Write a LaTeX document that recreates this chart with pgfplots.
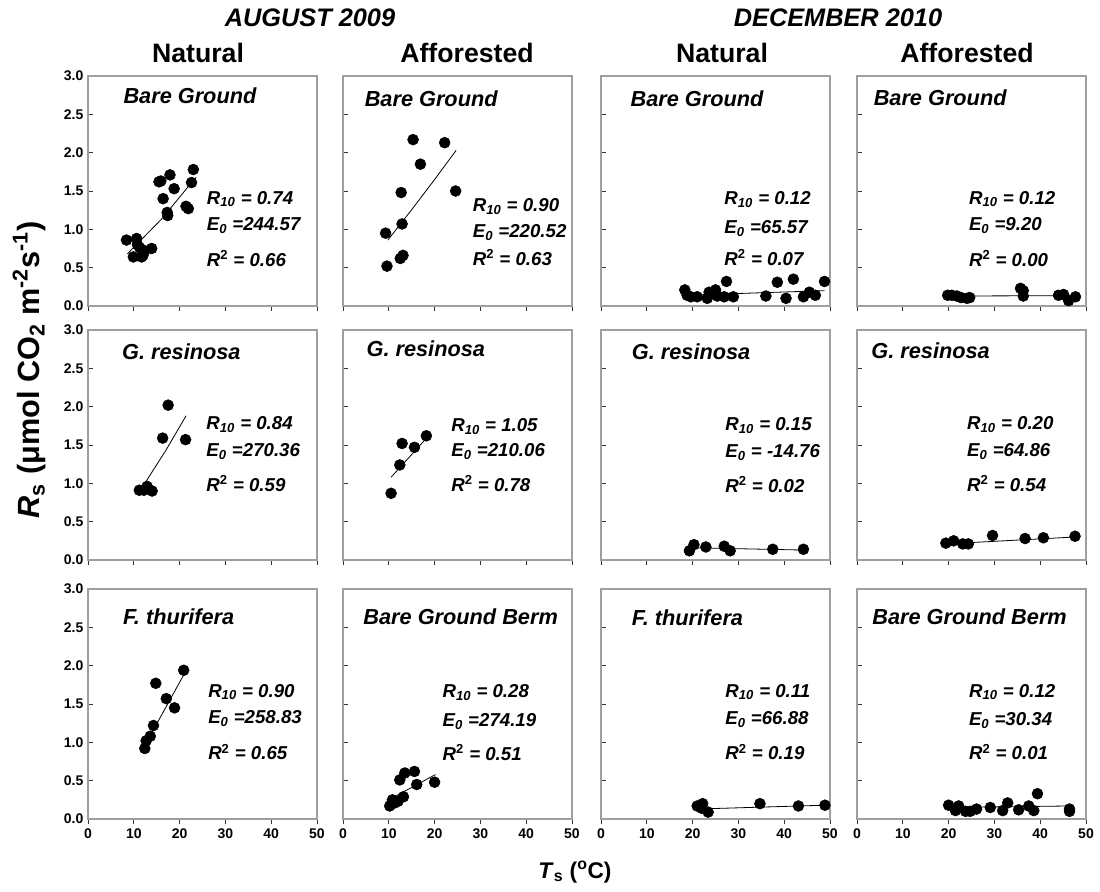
\documentclass[border=0pt]{standalone}
\usepackage{fontspec}
\setmainfont{Liberation Sans}
\setsansfont{Liberation Sans}
\usepackage{pgfplots}
\pgfplotsset{compat=1.18}

\tikzset{
  st/.style={anchor=base west, inner sep=0pt, font=\fontsize{14}{16}\selectfont\bfseries\itshape},
  pl/.style={anchor=base west, inner sep=0pt, font=\fontsize{16.3}{18}\selectfont\bfseries\itshape},
}
\pgfplotsset{
  panel/.style={
    scale only axis, width=171.75pt, height=172.5pt,
    xmin=0, xmax=50, ymin=0, ymax=3,
    xtick={0,10,20,30,40,50}, ytick={0,0.5,1,1.5,2,2.5,3},
    xticklabels={}, yticklabels={},
    tick pos=left, xtick align=outside, ytick align=inside,
    major tick length=4pt,
    major tick style={black!80, line width=0.6pt},
    axis line style={gray!75, line width=0.8pt},
    tick label style={font=\fontsize{10.5}{12}\selectfont\bfseries},
    clip=false, anchor=north west,
  },
  ylab/.style={yticklabels={0.0,0.5,1.0,1.5,2.0,2.5,3.0}},
  xlab/.style={xticklabels={0,10,20,30,40,50}},
  pts/.style={only marks, mark=*, mark size=4.1pt, black},
  fit/.style={no marks, black, line width=0.6pt},
}
% x, y of the three lines, then R10, E0, R2
\newcommand{\stats}[7]{%
  \node[st] at (axis cs:#1,#2) {R\textsubscript{10} = #5};
  \node[st] at (axis cs:#1,#3) {E\textsubscript{0} #6};
  \node[st] at (axis cs:#1,#4) {R\textsuperscript{\upshape 2} = #7};
}

\begin{document}
\begin{tikzpicture}
\useasboundingbox (0,0) rectangle (825pt,-669pt);

% ---------- row 1 ----------
\begin{axis}[panel, ylab, at={(66pt,-57pt)}]
\addplot[pts] coordinates {(8.4,0.86) (10.6,0.88) (9.9,0.64) (11.7,0.64) (11.3,0.76) (12.4,0.72)
  (13.9,0.75) (10.8,0.80) (12.0,0.66) (15.5,1.62) (15.9,1.63) (17.9,1.71) (18.8,1.53) (16.4,1.40)
  (17.3,1.22) (17.4,1.18) (21.4,1.30) (21.9,1.27) (22.6,1.61) (23.0,1.78)};
\addplot[fit] coordinates {(8.6,0.68) (16,1.13) (23.6,1.68)};
\node[pl] at (axis cs:7.7,2.64) {Bare Ground};
\stats{25.9}{1.33}{0.98}{0.52}{0.74}{=244.57}{0.66}
\end{axis}

\begin{axis}[panel, at={(257.25pt,-57pt)}]
\addplot[pts] coordinates {(15.3,2.17) (22.2,2.13) (16.9,1.85) (12.7,1.48) (24.6,1.50) (12.9,1.07)
  (9.3,0.95) (9.6,0.52) (12.5,0.62) (13.1,0.66)};
\addplot[fit] coordinates {(9.8,0.86) (15.3,1.28) (20,1.65) (24.7,2.03)};
\node[pl] at (axis cs:4.7,2.60) {Bare Ground};
\stats{28.3}{1.23}{0.89}{0.53}{0.90}{=220.52}{0.63}
\end{axis}

\begin{axis}[panel, at={(450.75pt,-57pt)}]
\addplot[pts] coordinates {(18.3,0.21) (18.8,0.14) (19.6,0.12) (21.0,0.12) (23.2,0.10) (23.6,0.18)
  (25.0,0.21) (25.4,0.13) (26.9,0.12) (27.4,0.32) (28.9,0.12) (36.0,0.13) (38.5,0.31) (40.4,0.10)
  (42.0,0.35) (44.2,0.12) (45.5,0.18) (46.8,0.14) (48.8,0.32)};
\addplot[fit] coordinates {(18.3,0.14) (48.8,0.20)};
\node[pl] at (axis cs:6.4,2.60) {Bare Ground};
\stats{26.9}{1.32}{0.95}{0.53}{0.12}{=65.57}{0.07}
\end{axis}

\begin{axis}[panel, at={(642.75pt,-57pt)}]
\addplot[pts] coordinates {(19.8,0.14) (20.7,0.14) (21.8,0.13) (22.7,0.11) (24.0,0.10) (24.6,0.11)
  (35.7,0.23) (36.3,0.20) (36.3,0.13) (44.0,0.14) (45.1,0.15) (46.2,0.07) (47.7,0.12)};
\addplot[fit] coordinates {(19.8,0.13) (47.7,0.135)};
\node[pl] at (axis cs:3.6,2.61) {Bare Ground};
\stats{24.4}{1.33}{0.98}{0.51}{0.12}{=9.20}{0.00}
\end{axis}

% ---------- row 2 ----------
\begin{axis}[panel, ylab, at={(66pt,-247.5pt)}]
\addplot[pts] coordinates {(11.2,0.91) (12.2,0.91) (12.9,0.96) (14.0,0.90) (17.5,2.02) (16.3,1.59) (21.3,1.57)};
\addplot[fit] coordinates {(12.4,1.0) (17,1.43) (21.4,1.88)};
\node[pl] at (axis cs:7.4,2.62) {G. resinosa};
\stats{25.8}{1.70}{1.35}{0.89}{0.84}{=270.36}{0.59}
\end{axis}

\begin{axis}[panel, at={(257.25pt,-247.5pt)}]
\addplot[pts] coordinates {(10.5,0.87) (12.4,1.24) (12.9,1.52) (15.6,1.47) (18.2,1.62)};
\addplot[fit] coordinates {(10.5,1.08) (18.7,1.62)};
\node[pl] at (axis cs:5.1,2.65) {G. resinosa};
\stats{23.6}{1.68}{1.35}{0.90}{1.05}{=210.06}{0.78}
\end{axis}

\begin{axis}[panel, at={(450.75pt,-247.5pt)}]
\addplot[pts] coordinates {(19.3,0.12) (20.3,0.20) (22.9,0.17) (26.9,0.18) (28.2,0.12) (37.5,0.14) (44.2,0.14)};
\addplot[fit] coordinates {(19.3,0.16) (44.2,0.13)};
\node[pl] at (axis cs:6.7,2.61) {G. resinosa};
\stats{27.1}{1.69}{1.34}{0.88}{0.15}{= -14.76}{0.02}
\end{axis}

\begin{axis}[panel, at={(642.75pt,-247.5pt)}]
\addplot[pts] coordinates {(19.4,0.22) (21.1,0.25) (23.1,0.21) (24.3,0.21) (29.6,0.32) (36.7,0.28) (40.7,0.29) (47.6,0.31)};
\addplot[fit] coordinates {(19.4,0.21) (47.6,0.30)};
\node[pl] at (axis cs:3.1,2.63) {G. resinosa};
\stats{24.0}{1.70}{1.35}{0.90}{0.20}{=64.86}{0.54}
\end{axis}

% ---------- row 3 ----------
\begin{axis}[panel, ylab, xlab, at={(66pt,-441.75pt)}]
\addplot[pts] coordinates {(20.9,1.94) (14.8,1.77) (17.1,1.57) (18.9,1.45) (14.3,1.22) (13.6,1.08) (12.7,1.02) (12.4,0.92)};
\addplot[fit] coordinates {(12.4,0.96) (20.9,1.88)};
\node[pl] at (axis cs:7.6,2.54) {F. thurifera};
\stats{26.2}{1.59}{1.24}{0.77}{0.90}{=258.83}{0.65}
\end{axis}

\begin{axis}[panel, xlab, at={(257.25pt,-441.75pt)}]
\addplot[pts] coordinates {(10.2,0.17) (11.3,0.21) (12.0,0.23) (13.2,0.29) (10.8,0.25) (12.4,0.51)
  (13.5,0.60) (15.6,0.62) (16.1,0.45) (20.0,0.48)};
\addplot[fit] coordinates {(10.3,0.26) (20.2,0.58)};
\node[pl] at (axis cs:4.4,2.54) {Bare Ground Berm};
\stats{21.7}{1.58}{1.21}{0.76}{0.28}{=274.19}{0.51}
\end{axis}

\begin{axis}[panel, xlab, at={(450.75pt,-441.75pt)}]
\addplot[pts] coordinates {(21.0,0.17) (22.2,0.20) (22.0,0.14) (23.4,0.09) (34.7,0.20) (43.1,0.17) (48.9,0.18)};
\addplot[fit] coordinates {(21.0,0.13) (48.9,0.18)};
\node[pl] at (axis cs:6.7,2.53) {F. thurifera};
\stats{27.1}{1.59}{1.23}{0.77}{0.11}{=66.88}{0.19}
\end{axis}

\begin{axis}[panel, xlab, at={(642.75pt,-441.75pt)}]
\addplot[pts] coordinates {(20.0,0.18) (21.5,0.11) (22.2,0.17) (23.7,0.10) (24.7,0.10) (26.1,0.13)
  (29.1,0.15) (31.8,0.11) (32.9,0.21) (35.3,0.12) (37.5,0.17) (38.6,0.11) (39.4,0.33) (46.4,0.10) (46.4,0.13)};
\addplot[fit] coordinates {(20,0.15) (46.4,0.17)};
\node[pl] at (axis cs:3.3,2.54) {Bare Ground Berm};
\stats{24.4}{1.59}{1.22}{0.77}{0.12}{=30.34}{0.01}
\end{axis}

% ---------- headings and axis titles ----------
\node[font=\fontsize{19}{22}\selectfont\bfseries\itshape] at (232.5pt,-13.5pt) {AUGUST 2009};
\node[font=\fontsize{19}{22}\selectfont\bfseries\itshape] at (628.5pt,-13.5pt) {DECEMBER 2010};
\node[font=\fontsize{20}{22}\selectfont\bfseries] at (148.5pt,-40pt) {Natural};
\node[font=\fontsize{20}{22}\selectfont\bfseries] at (350.25pt,-40pt) {Afforested};
\node[font=\fontsize{20}{22}\selectfont\bfseries] at (541.5pt,-40pt) {Natural};
\node[font=\fontsize{20}{22}\selectfont\bfseries] at (725.25pt,-40pt) {Afforested};
\node[rotate=90, font=\fontsize{23}{26}\selectfont\bfseries] at (22pt,-277.5pt)
  {\textit{R}\textsubscript{s} (μmol CO\textsubscript{2} m\textsuperscript{-2}s\textsuperscript{-1})};
\node[font=\fontsize{17}{20}\selectfont\bfseries] at (431.25pt,-654pt)
  {\textit{T}\textsubscript{s} (\textsuperscript{o}C)};
\end{tikzpicture}
\end{document}
